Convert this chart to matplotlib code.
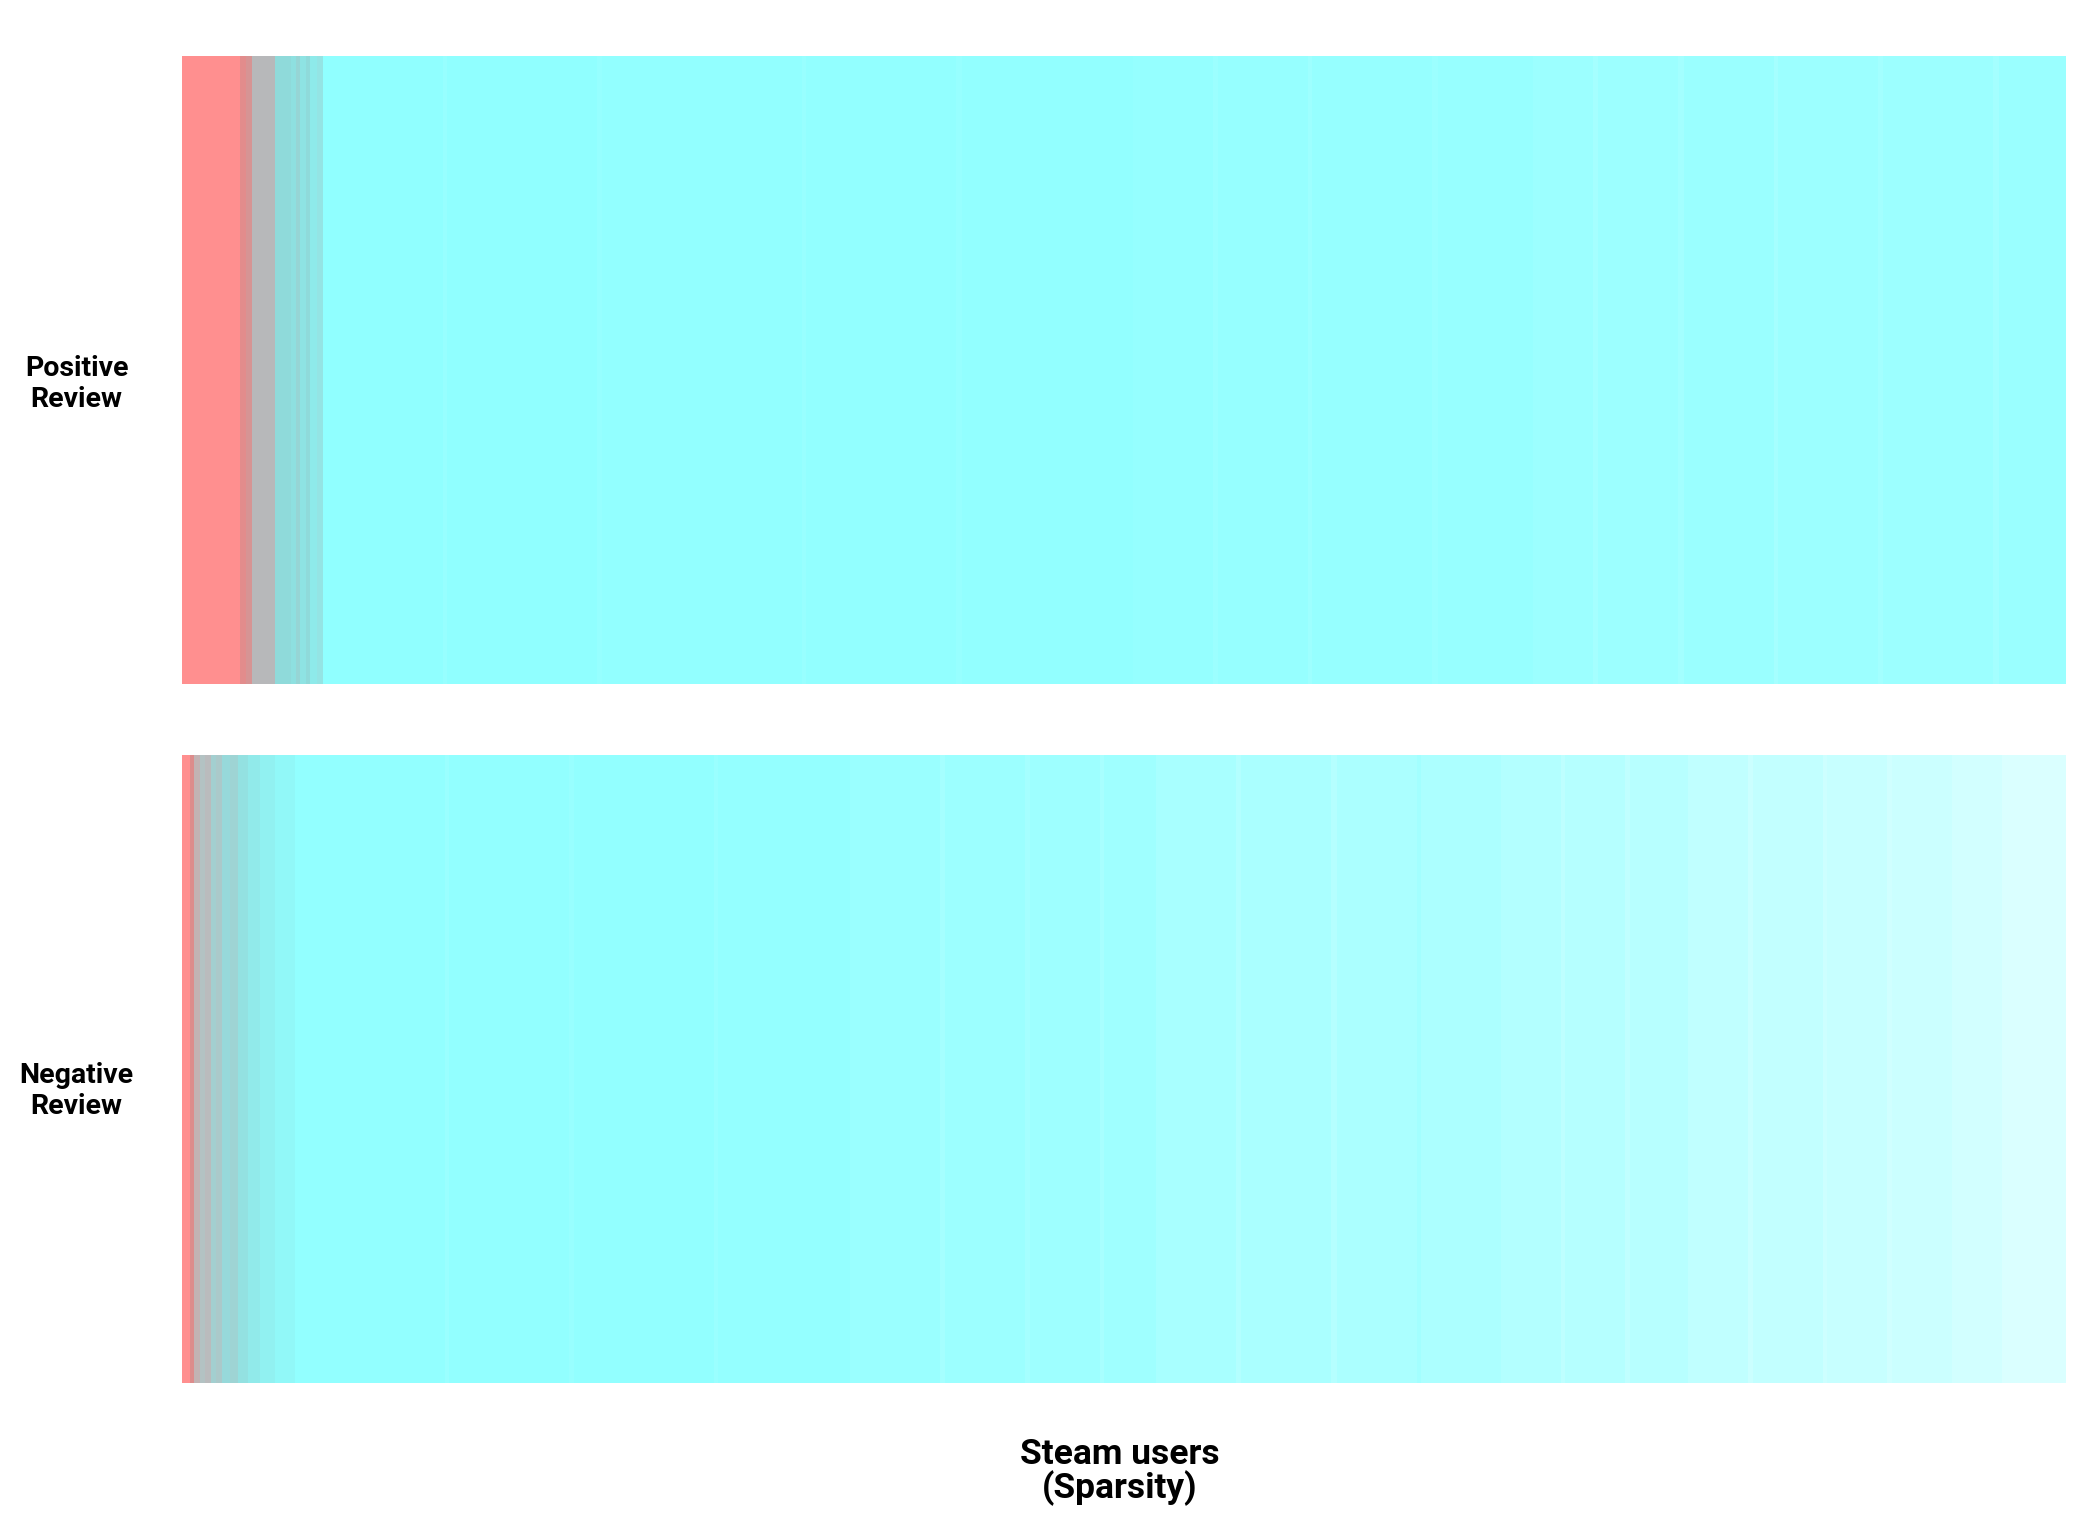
#! /usr/bin/env python3
import matplotlib.pyplot as plt
import numpy as np
from matplotlib.colors import LinearSegmentedColormap

plt.rcParams['font.family'] = ['Roboto', 'DejaVu Sans']

# each block: number of users, share of positive playtime (0 = red, 1 = cyan), opacity
pos_users = [58, 6, 6, 23, 16, 5, 4, 6, 4, 7, 6,
             120, 4, 150, 5, 200, 4, 150, 6, 170,
             80, 5, 90, 4, 120, 6, 95,
             60, 5, 80, 6, 90, 4, 100, 5, 110, 6, 67]
pos_share = [0.0, 0.22, 0.3, 0.5, 0.74, 0.78, 0.7, 0.8, 0.74, 0.85, 0.8,
             1.0, 1.0, 1.0, 1.0, 1.0, 1.0, 1.0, 1.0, 1.0,
             1.0, 1.0, 1.0, 1.0, 1.0, 1.0, 1.0,
             1.0, 1.0, 1.0, 1.0, 1.0, 1.0, 1.0, 1.0, 1.0, 1.0, 1.0]
pos_alpha = [1.0, 1.0, 1.0, 1.0, 1.0, 1.0, 1.0, 1.0, 1.0, 1.0, 0.95,
             0.99, 0.93, 0.99, 0.94, 0.98, 0.92, 0.98, 0.93, 0.97,
             0.95, 0.88, 0.94, 0.87, 0.94, 0.88, 0.93,
             0.89, 0.8, 0.88, 0.82, 0.9, 0.8, 0.88, 0.82, 0.89, 0.81, 0.9]

neg_users = [8, 4, 6, 5, 6, 5, 6, 8, 8, 10, 12, 15, 20,
             150, 4, 120, 5, 140, 4, 132,
             90, 5, 80, 5, 70, 4, 51,
             80, 5, 90, 6, 80, 4, 80,
             60, 4, 60, 5, 58,
             60, 5, 70, 4, 60, 5, 60, 50, 64]
neg_share = [0.0, 0.25, 0.45, 0.55, 0.5, 0.65, 0.6, 0.72, 0.68, 0.78, 0.85, 0.9, 0.95,
             1.0, 1.0, 1.0, 1.0, 1.0, 1.0, 1.0,
             1.0, 1.0, 1.0, 1.0, 1.0, 1.0, 1.0,
             1.0, 1.0, 1.0, 1.0, 1.0, 1.0, 1.0,
             1.0, 1.0, 1.0, 1.0, 1.0,
             1.0, 1.0, 1.0, 1.0, 1.0, 1.0, 1.0, 1.0, 1.0]
neg_alpha = [1.0, 1.0, 0.95, 0.95, 0.95, 0.95, 0.95, 0.95, 0.95, 0.96, 0.97, 0.98, 0.98,
             0.98, 0.9, 0.98, 0.92, 0.97, 0.9, 0.96,
             0.9, 0.8, 0.88, 0.8, 0.87, 0.78, 0.86,
             0.78, 0.68, 0.76, 0.66, 0.75, 0.82, 0.74,
             0.68, 0.58, 0.66, 0.56, 0.64,
             0.56, 0.46, 0.54, 0.44, 0.5, 0.42, 0.46, 0.4, 0.33]

rows = ["Positive\nReview", "Negative\nReview"]
users = [pos_users, neg_users]
shares = [pos_share, neg_share]
alphas = [pos_alpha, neg_alpha]

cmap = LinearSegmentedColormap.from_list('redcyan', [
    (0.0, '#ff8f8f'), (0.25, '#de8c8c'), (0.5, '#b8b8ba'),
    (0.75, '#8edcdc'), (1.0, '#8fffff')])

fig = plt.figure(figsize=(20.83, 15.34), dpi=100)
axes_pos = [[0.0874, 0.554, 0.904, 0.4094], [0.0874, 0.0984, 0.904, 0.4094]]
label_y = [0.7497, 0.2888]

for i in range(len(rows)):
    ax = fig.add_axes(axes_pos[i])
    t = np.repeat(shares[i], users[i])
    a = np.repeat(alphas[i], users[i])
    rgba = cmap(t)
    rgba[:, 3] = a
    ax.imshow(rgba[np.newaxis, :, :], aspect='auto', interpolation='nearest',
              extent=[0, len(t), 0, 1])
    ax.set_xlim(0, len(t))
    ax.set_axis_off()
    fig.text(0.0368, label_y[i], rows[i], ha='center', va='center',
             fontsize=20.5, fontweight='bold', linespacing=1.2)

fig.text(0.5377, 0.0404, "Steam users\n(Sparsity)", ha='center', va='center',
         fontsize=25.5, fontweight='bold', linespacing=1.0)

plt.savefig('out.png', dpi=100)
